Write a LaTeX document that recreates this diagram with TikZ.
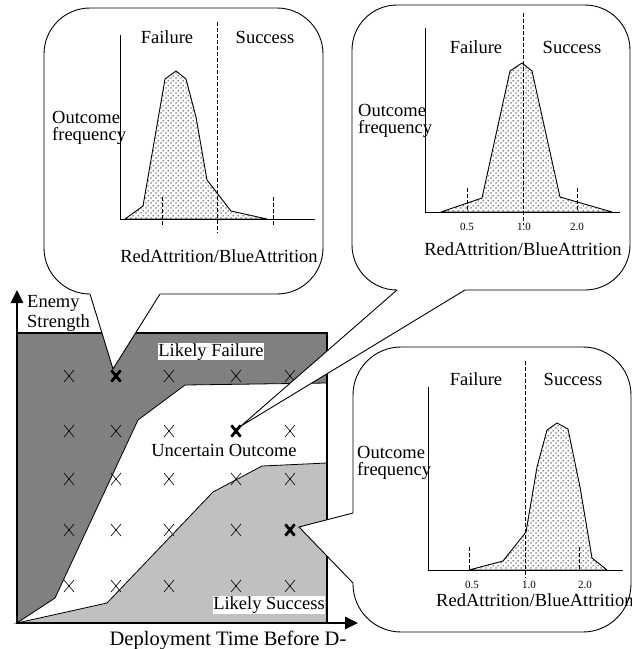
\documentclass[tikz,border=0pt]{standalone}
\usepackage{fontspec}
\setmainfont{Liberation Serif}
\usetikzlibrary{arrows.meta,patterns.meta}
\tikzdeclarepattern{
  name=mydots,
  type=uncolored,
  bottom left={(0pt,0pt)}, top right={(5pt,5pt)},
  tile size={(5pt,5pt)},
  code={\fill (1.25pt,1.25pt) circle (0.8pt); \fill (3.75pt,3.75pt) circle (0.8pt);}
}
\definecolor{darkreg}{HTML}{808080}
\definecolor{lightreg}{HTML}{C0C0C0}
\tikzset{
  txt/.style={font=\fontsize{18.5}{19}\selectfont, inner sep=0pt, anchor=base},
  ticklbl/.style={font=\fontsize{11}{12}\selectfont, inner sep=0pt, anchor=base},
  bubble/.style={draw=black, fill=white, line width=0.9pt, rounded corners=#1},
  tailfill/.style={fill=white, draw=none},
  tailline/.style={draw=black, line width=0.9pt, line join=miter},
  curvefill/.style={pattern=mydots, pattern color=black, draw=black, line width=0.9pt, line join=round},
  divider/.style={draw=black, line width=0.9pt, dash pattern=on 4pt off 2pt},
  plotaxis/.style={draw=black, line width=1pt},
  thinx/.style={draw=black, line width=0.6pt},
  boldx/.style={draw=black, line width=2.8pt},
  mainaxis/.style={draw=black, line width=2.6pt, -{Triangle[length=13pt,width=12pt]}},
}
\begin{document}
\begin{tikzpicture}[x=1pt,y=-1pt]
\useasboundingbox (0,0) rectangle (632,649);
\fill[white] (0,0) rectangle (632,649);

% ---------------- main chart ----------------
\fill[darkreg, draw=black, line width=0.8pt] (17,333) -- (327,333) -- (327,383) -- (185,385) -- (138,420) -- (55,598) -- (17,623) -- cycle;
\fill[lightreg, draw=black, line width=0.8pt] (17,623) -- (107,603) -- (213,492) -- (262,466) -- (327,463) -- (327,623) -- cycle;
\draw[line width=2pt] (17,333) rectangle (327,623);

% thin X marks
\foreach \cx in {69,116,169,236,290} {
  \foreach \cy in {376,431,479,530,586} {
    \draw[thinx] (\cx-5,\cy-6) -- (\cx+5,\cy+6) (\cx-5,\cy+6) -- (\cx+5,\cy-6);
  }
}

\coordinate (origin) at (17,623);
\coordinate (ytop) at (17,290);
\coordinate (xend) at (358,623);
\draw[mainaxis] (origin) -- (ytop);
\draw[mainaxis] (origin) -- (xend);

\node[txt, anchor=base west, align=left] (enemy) at (27,327) {Enemy\\[1pt]Strength};
\node[txt, fill=white, inner sep=0.5pt] (lfail) at (211,356) {Likely Failure};
\node[txt] (uncert) at (224,456) {Uncertain Outcome};
\node[txt, fill=white, inner sep=0.5pt] (lsucc) at (269,609) {Likely Success};
\node[txt, font=\fontsize{20.5}{21}\selectfont] (deploy) at (228,645) {Deployment Time Before D-};

% ---------------- bubble 1 (top left) ----------------
\path[bubble=46pt] (44,8) rectangle (323,294);
\coordinate (b1l) at (90,294);
\coordinate (b1r) at (160,294);
\coordinate (b1tip) at (113,369);
\fill[tailfill] (b1l) -- (b1tip) -- (b1r) -- (160,292) -- (90,292) -- cycle;
\draw[tailline] (b1l) -- (b1tip) -- (b1r);

\path[curvefill] (125,219) -- (143,206) -- (165,79) -- (176,71) -- (186,79) -- (196,117) -- (207,180) -- (231,211) -- (267,219) -- cycle;
\draw[divider] (217,22) -- (217,233);
\draw[divider] (162,197) -- (162,227);
\draw[divider] (273,197) -- (273,227);
\draw[plotaxis] (120,35) -- (120,219) -- (315,219);
\node[txt] (f1) at (167,43) {Failure};
\node[txt] (s1) at (265,43) {Success};
\node[txt, anchor=base west, align=left] (o1) at (52,140) {Outcome\\[-2pt]frequency};
\node[txt] (r1) at (219,262) {RedAttrition/BlueAttrition};

% ---------------- bubble 2 (top right) ----------------
\path[bubble=45pt] (352,5) rectangle (630,290);
\coordinate (b2l) at (397,290);
\coordinate (b2r) at (465,290);
\coordinate (b2tip) at (241,426);
\fill[tailfill] (b2l) -- (b2tip) -- (b2r) -- (465,288) -- (397,288) -- cycle;
\draw[tailline] (b2l) -- (b2tip) -- (b2r);

\path[curvefill] (441,212) -- (482,198) -- (510,71) -- (522,63) -- (532,71) -- (560,197) -- (612,212) -- cycle;
\draw[divider] (523,13) -- (523,225);
\draw[divider] (467,188) -- (467,212);
\draw[divider] (577,188) -- (577,212);
\draw[plotaxis] (425,28) -- (425,212) -- (620,212);
\node[txt] (f2) at (476,53) {Failure};
\node[txt] (s2) at (572,53) {Success};
\node[txt, anchor=base west, align=left] (o2) at (358,133) {Outcome\\[-2pt]frequency};
\node[ticklbl] (t2a) at (467,230) {0.5};
\node[ticklbl] (t2b) at (524,230) {1.0};
\node[ticklbl] (t2c) at (577,230) {2.0};
\node[txt] (r2) at (523,255) {RedAttrition/BlueAttrition};

% ---------------- bubble 3 (bottom right) ----------------
\path[bubble=48pt] (353,347) rectangle (631,632);
\coordinate (b3u) at (353,513);
\coordinate (b3d) at (353,583);
\coordinate (b3tip) at (299,527);
\fill[tailfill] (b3u) -- (b3tip) -- (b3d) -- (355,583) -- (355,513) -- cycle;
\draw[tailline] (b3u) -- (b3tip) -- (b3d);

\path[curvefill] (469,570) -- (503,561) -- (526,532) -- (537,467) -- (547,430) -- (557,423) -- (568,429) -- (580,487) -- (592,558) -- (607,570) -- cycle;
\draw[divider] (525,361) -- (525,578);
\draw[divider] (469,547) -- (469,570);
\draw[divider] (579,547) -- (579,570);
\draw[plotaxis] (428,387) -- (428,570) -- (623,570);
\node[txt] (f3) at (476,385) {Failure};
\node[txt] (s3) at (573,385) {Success};
\node[txt, anchor=base west, align=left] (o3) at (357,475) {Outcome\\[-2pt]frequency};
\node[ticklbl] (t3a) at (472,588.5) {0.5};
\node[ticklbl] (t3b) at (529,588.5) {1.0};
\node[ticklbl] (t3c) at (585,588.5) {2.0};
\node[txt, anchor=base west] (r3) at (436,606) {RedAttrition/BlueAttrition};

% ---------------- bold X marks ----------------
\foreach \cx/\cy/\nm in {116/376/xa, 236/431/xb, 290/530/xc} {
  \draw[boldx] (\cx-4.5,\cy-5.5) -- (\cx+4.5,\cy+5.5) (\cx-4.5,\cy+5.5) -- (\cx+4.5,\cy-5.5);
}
\end{tikzpicture}
\end{document}
